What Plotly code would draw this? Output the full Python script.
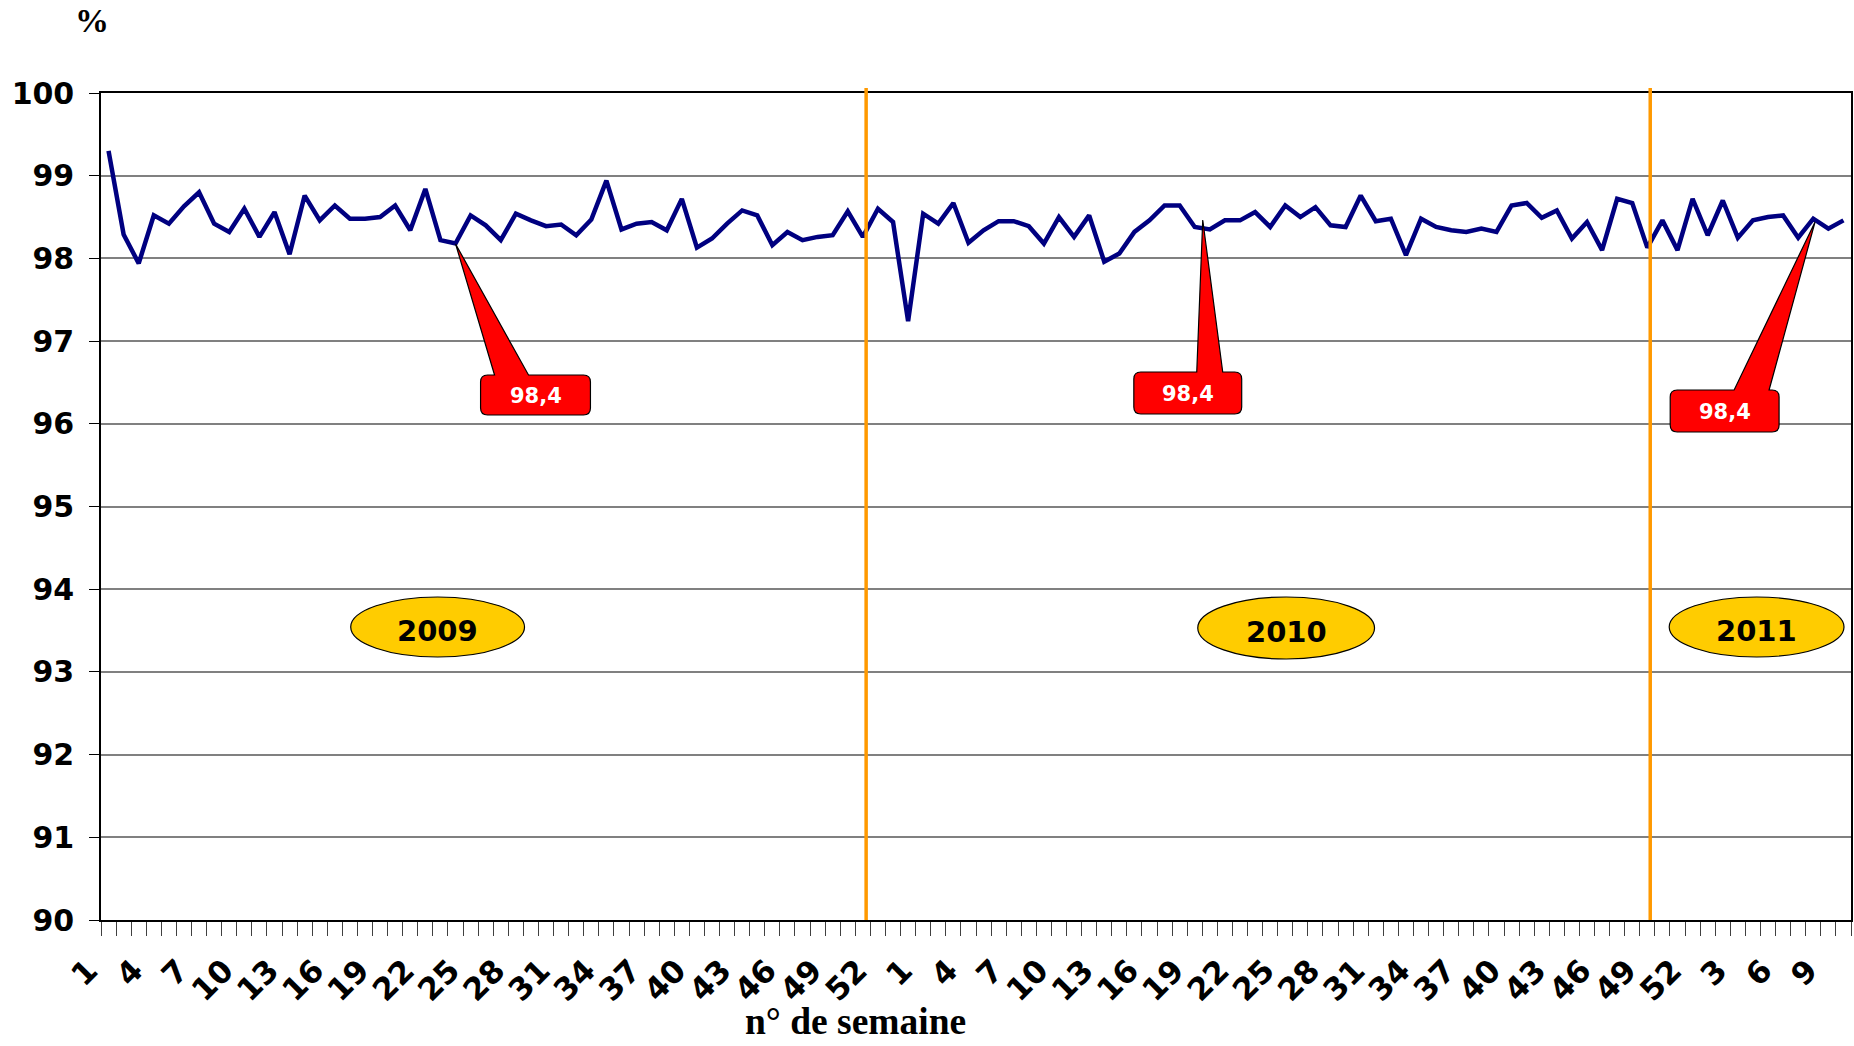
import plotly.graph_objects as go

# ---------------- data ----------------
weeks_2009 = list(range(1, 55))
weeks_2010 = list(range(1, 53))
weeks_2011 = list(range(1, 11))

values_2009 = [99.30, 98.29, 97.94, 98.52, 98.42, 98.63, 98.80, 98.42, 98.32, 98.60,
               98.26, 98.56, 98.05, 98.76, 98.46, 98.64, 98.48, 98.48, 98.50, 98.64,
               98.34, 98.84, 98.22, 98.18, 98.52, 98.40, 98.22, 98.54, 98.46, 98.39,
               98.41, 98.28, 98.47, 98.94, 98.35, 98.42, 98.44, 98.34, 98.72, 98.13,
               98.24, 98.42, 98.58, 98.52, 98.16, 98.32, 98.22, 98.26, 98.28, 98.57,
               98.26, 98.60, 98.44, 97.24]
values_2010 = [98.54, 98.42, 98.67, 98.19, 98.34, 98.45, 98.45, 98.39, 98.18, 98.50,
               98.26, 98.52, 97.96, 98.06, 98.32, 98.46, 98.64, 98.64, 98.38, 98.35,
               98.46, 98.46, 98.56, 98.38, 98.64, 98.50, 98.62, 98.40, 98.38, 98.76,
               98.45, 98.48, 98.04, 98.48, 98.38, 98.34, 98.32, 98.36, 98.32, 98.64,
               98.67, 98.49, 98.58, 98.24, 98.44, 98.10, 98.72, 98.67, 98.13, 98.46,
               98.10, 98.72]
values_2011 = [98.28, 98.70, 98.25, 98.46, 98.50, 98.52, 98.25, 98.48, 98.36, 98.46]

year_labels = ["2009", "2010", "2011"]
callout_text = ["98,4", "98,4", "98,4"]

weeks = weeks_2009 + weeks_2010 + weeks_2011
values = values_2009 + values_2010 + values_2011
idx = list(range(len(values)))
N = len(values)

# ---------------- geometry helpers (pixel -> axis coords) ----------------
W, H = 1854, 1046
L, R, T, B = 101, 1, 93, 126
PW = W - L - R
PH = H - T - B
cw = PW / N
uh = PH / 10.0


def X(px):
    return (px - L) / cw - 0.5


def Y(py):
    return 90 + (H - B - py) / uh


def PX(px):
    return (px - L) / PW


def PY(py):
    return (H - B - py) / PH


fig = go.Figure()
fig.add_trace(go.Scatter(x=idx, y=values, mode="lines",
                         line=dict(color="#000080", width=4.5),
                         hoverinfo="skip", showlegend=False))

tickvals = idx[::3]
ticktext = [str(weeks[i]) for i in tickvals]

shapes = []
annotations = []

# orange separators
for px in (867, 1652):
    shapes.append(dict(type="line", xref="x", yref="paper", x0=X(px), x1=X(px),
                       y0=0, y1=PY(88), line=dict(color="#FF9900", width=3.5), layer="above"))

# year ellipses
ell = [(351, 525, 597, 657), (1199, 1376, 597, 659), (1671, 1846, 597, 657)]
for (x0, x1, y0, y1), lab in zip(ell, year_labels):
    shapes.append(dict(type="circle", xref="x", yref="y", x0=X(x0), x1=X(x1),
                       y0=Y(y1), y1=Y(y0), fillcolor="#FFCC00",
                       line=dict(color="black", width=1.2), layer="above"))
    annotations.append(dict(xref="x", yref="y", x=X((x0 + x1) / 2), y=Y((y0 + y1) / 2 + 4),
                            xanchor="center", yanchor="middle",
                            text="<b>%s</b>" % lab, showarrow=False,
                            font=dict(family="DejaVu Sans", size=29, color="black")))


# red callouts
def callout(x0, y0, x1, y1, ba, bb, tip, r=7):
    def p(px, py):
        return "%.4f,%.4f" % (X(px), Y(py))
    s = "M " + p(x0 + r, y0)
    s += " L " + p(ba, y0) + " L " + p(tip[0], tip[1]) + " L " + p(bb, y0)
    s += " L " + p(x1 - r, y0) + " Q " + p(x1, y0) + " " + p(x1, y0 + r)
    s += " L " + p(x1, y1 - r) + " Q " + p(x1, y1) + " " + p(x1 - r, y1)
    s += " L " + p(x0 + r, y1) + " Q " + p(x0, y1) + " " + p(x0, y1 - r)
    s += " L " + p(x0, y0 + r) + " Q " + p(x0, y0) + " " + p(x0 + r, y0) + " Z"
    return s


calls = [
    ((481, 375, 591, 415), 495, 529, (456, 244)),
    ((1135, 372, 1243, 414), 1198, 1224, (1204, 220)),
    ((1672, 390, 1781, 432), 1736, 1771, (1817, 222)),
]
for (x0, y0, x1, y1), ba, bb, tip in calls:
    shapes.append(dict(type="path", xref="x", yref="y",
                       path=callout(x0, y0, x1, y1, ba, bb, tip),
                       fillcolor="#FF0000", line=dict(color="black", width=1.2), layer="above"))
for ((x0, y0, x1, y1), ba, bb, tip), t in zip(calls, callout_text):
    annotations.append(dict(xref="x", yref="y", x=X((x0 + x1) / 2), y=Y((y0 + y1) / 2 + 1),
                            xanchor="center", yanchor="middle",
                            text="<b>%s</b>" % t, showarrow=False,
                            font=dict(family="DejaVu Sans", size=21, color="white")))

# axis titles
annotations.append(dict(xref="paper", yref="paper", x=PX(92), y=PY(21),
                        xanchor="center", yanchor="middle",
                        text="<b>%</b>", showarrow=False,
                        font=dict(family="Liberation Serif", size=34, color="black")))
annotations.append(dict(xref="paper", yref="paper", x=PX(856), y=PY(1022),
                        xanchor="center", yanchor="middle",
                        text="<b>n° de semaine</b>", showarrow=False,
                        font=dict(family="Liberation Serif", size=37.5, color="black")))

fig.update_layout(
    width=W, height=H,
    margin=dict(l=L, r=R, t=T, b=B),
    paper_bgcolor="white", plot_bgcolor="white",
    shapes=shapes, annotations=annotations,
    xaxis=dict(range=[-0.5, N - 0.5], tickmode="array", tickvals=tickvals, ticktext=ticktext,
               tickangle=-45, ticks="outside", ticklen=14, tickcolor="rgba(0,0,0,0)",
               ticklabelstandoff=4, ticklabelshift=-20,
               tickfont=dict(family="DejaVu Sans", size=31, color="black", weight="bold"),
               showgrid=False, zeroline=False,
               showline=True, linecolor="black", linewidth=1.5, mirror=True,
               minor=dict(tick0=-0.5, dtick=1, ticks="outside", ticklen=14,
                          tickcolor="#404040", tickwidth=1, showgrid=False)),
    yaxis=dict(range=[90, 100], tickmode="linear", tick0=90, dtick=1,
               ticks="outside", ticklen=10, tickcolor="black",
               ticklabelstandoff=9,
               tickfont=dict(family="DejaVu Sans", size=30, color="black", weight="bold"),
               showgrid=True, gridcolor="#808080", gridwidth=1.5, zeroline=False,
               showline=True, linecolor="black", linewidth=1.5, mirror=True),
)

fig.write_html("out.html", config={"displayModeBar": False},
               post_script="document.body.style.margin='0';document.body.style.overflow='hidden';")
